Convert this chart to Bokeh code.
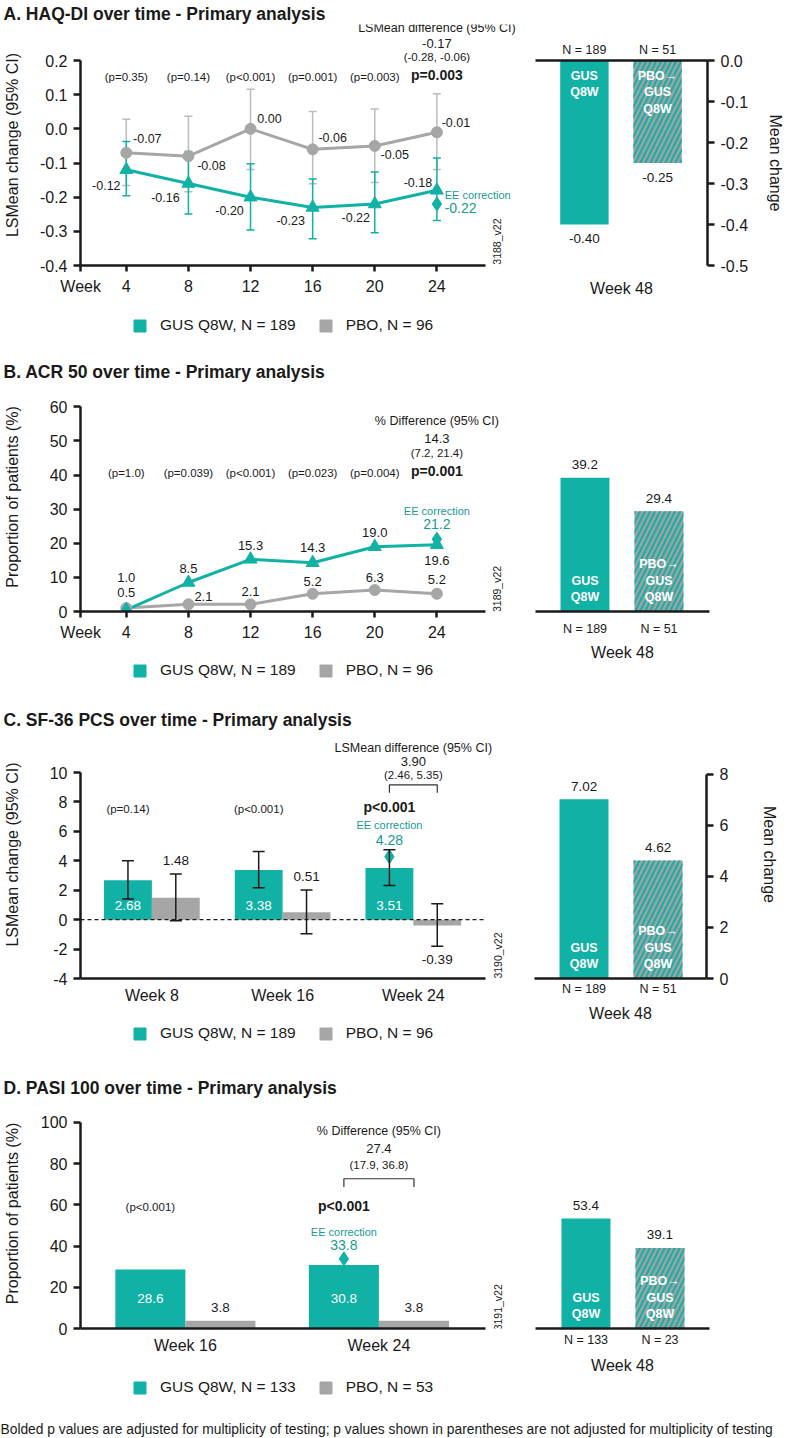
import math
from bokeh.plotting import figure
from bokeh.models import (ColumnDataSource, Range1d, FixedTicker, Whisker, TeeHead, Label,
                          Legend, LegendItem, LinearAxis, NumeralTickFormatter)
from bokeh.layouts import row, column
from bokeh.embed import file_html
from bokeh.resources import INLINE
from bokeh.core.properties import value

# ---------------- data ----------------
titles = ["A. HAQ-DI over time - Primary analysis",
          "B. ACR 50 over time - Primary analysis",
          "C. SF-36 PCS over time - Primary analysis",
          "D. PASI 100 over time - Primary analysis"]

weeks_ts = [4, 8, 12, 16, 20, 24]

haq_gus = [-0.12, -0.16, -0.20, -0.23, -0.22, -0.18]
haq_gus_lo = [-0.196, -0.249, -0.296, -0.322, -0.304, -0.268]
haq_gus_hi = [-0.037, -0.066, -0.102, -0.147, -0.126, -0.085]
haq_pbo = [-0.07, -0.08, 0.00, -0.06, -0.05, -0.01]
haq_pbo_lo = [-0.166, -0.184, -0.119, -0.161, -0.157, -0.119]
haq_pbo_hi = [0.028, 0.037, 0.116, 0.051, 0.058, 0.103]
haq_p = ["(p=0.35)", "(p=0.14)", "(p<0.001)", "(p=0.001)", "(p=0.003)"]
haq_p_final = "p=0.003"
haq_diff = ["LSMean difference (95% CI)", "-0.17", "(-0.28, -0.06)"]
haq_ee = -0.22
haq_yticks = [-0.4, -0.3, -0.2, -0.1, 0.0, 0.1, 0.2]
haq_w48 = [-0.40, -0.25]
haq_w48_ticks = [-0.5, -0.4, -0.3, -0.2, -0.1, 0.0]

acr_gus = [0.5, 8.5, 15.3, 14.3, 19.0, 19.6]
acr_pbo = [1.0, 2.1, 2.1, 5.2, 6.3, 5.2]
acr_p = ["(p=1.0)", "(p=0.039)", "(p<0.001)", "(p=0.023)", "(p=0.004)"]
acr_p_final = "p=0.001"
acr_diff = ["% Difference (95% CI)", "14.3", "(7.2, 21.4)"]
acr_ee = 21.2
acr_yticks = [0, 10, 20, 30, 40, 50, 60]
acr_w48 = [39.2, 29.4]

weeks_c = ["Week 8", "Week 16", "Week 24"]
sf_gus = [2.68, 3.38, 3.51]
sf_gus_lo = [1.40, 2.17, 2.32]
sf_gus_hi = [4.00, 4.63, 4.75]
sf_pbo = [1.48, 0.51, -0.39]
sf_pbo_lo = [-0.07, -0.96, -1.80]
sf_pbo_hi = [3.10, 2.01, 1.08]
sf_p = ["(p=0.14)", "(p<0.001)"]
sf_p_final = "p<0.001"
sf_diff = ["LSMean difference (95% CI)", "3.90", "(2.46, 5.35)"]
sf_ee = 4.28
sf_yticks = [-4, -2, 0, 2, 4, 6, 8, 10]
sf_w48 = [7.02, 4.62]
sf_w48_ticks = [0, 2, 4, 6, 8]

weeks_d = ["Week 16", "Week 24"]
pasi_gus = [28.6, 30.8]
pasi_pbo = [3.8, 3.8]
pasi_p = ["(p<0.001)"]
pasi_p_final = "p<0.001"
pasi_diff = ["% Difference (95% CI)", "27.4", "(17.9, 36.8)"]
pasi_ee = 33.8
pasi_yticks = [0, 20, 40, 60, 80, 100]
pasi_w48 = [53.4, 39.1]

w48_groups = ["GUS\nQ8W", "PBO\u2192\nGUS\nQ8W"]
w48_n_main = ["N = 189", "N = 51"]
w48_n_pasi = ["N = 133", "N = 23"]
legend_main = ["GUS Q8W, N = 189", "PBO, N = 96"]
legend_pasi = ["GUS Q8W, N = 133", "PBO, N = 53"]
fig_codes = ["3188_v22", "3189_v22", "3190_v22", "3191_v22"]
footnote = ("Bolded p values are adjusted for multiplicity of testing; "
            "p values shown in parentheses are not adjusted for multiplicity of testing")

# ---------------- style ----------------
FONT = "Liberation Sans"
TEAL = "#11b1a6"
TEAL_TXT = "#169b91"
GRAY = "#a6a6a6"
GRAY_CI = "#bcbcbc"
INK = "#1a1a1a"
HATCH_BG = "#a1a1a1"
LEFT_W, RIGHT_W = 528, 259
LB = 78          # left border of the left panels


def style_axis(ax, size="16px"):
    ax.axis_line_color = INK
    ax.axis_line_width = 2.5
    ax.major_tick_line_color = INK
    ax.major_tick_line_width = 2.5
    ax.major_tick_out = 7
    ax.major_tick_in = 0
    ax.minor_tick_line_color = None
    ax.major_label_text_font = FONT
    ax.major_label_text_font_size = size
    ax.major_label_text_color = INK
    ax.axis_label_text_font = FONT
    ax.axis_label_text_font_size = "16px"
    ax.axis_label_text_font_style = "normal"
    ax.axis_label_text_color = INK


def make_left(title, height, b_bottom, xr, yr, xbounds):
    p = figure(width=LEFT_W, height=height, x_range=Range1d(*xr), y_range=Range1d(*yr),
               output_backend="svg", toolbar_location=None,
               min_border_left=LB, min_border_right=0,
               min_border_top=24, min_border_bottom=b_bottom, title=title)
    p.title.text_font = FONT
    p.title.text_font_size = "17.5px"
    p.title.text_font_style = "bold"
    p.title.text_color = INK
    p.title.align = "left"
    p.title.offset = -(LB - 1)
    p.title.standoff = 1
    p.outline_line_color = None
    p.xgrid.grid_line_color = None
    p.ygrid.grid_line_color = None
    style_axis(p.xaxis[0])
    style_axis(p.yaxis[0])
    p.xaxis[0].bounds = xbounds
    return p


def set_y(p, ticks, fmt, label, label_standoff):
    ax = p.yaxis[0]
    ax.ticker = FixedTicker(ticks=ticks)
    ax.bounds = (min(ticks), max(ticks))
    ax.formatter = NumeralTickFormatter(format=fmt)
    ax.axis_label = label
    ax.axis_label_standoff = label_standoff
    ax.major_label_standoff = 6


def set_x_weeks(p, xr):
    ax = p.xaxis[0]
    wpos = round(xr[0] + 0.01, 3)
    ax.ticker = FixedTicker(ticks=[wpos] + weeks_ts)
    ax.formatter = NumeralTickFormatter(format="0")
    ax.major_label_overrides = {wpos: "Week"}
    ax.major_tick_out = 6
    ax.major_label_standoff = 6


def set_x_cats(p, pos, cats, standoff):
    ax = p.xaxis[0]
    ax.ticker = FixedTicker(ticks=pos)
    ax.major_label_overrides = {x: c for x, c in zip(pos, cats)}
    ax.major_tick_line_color = None
    ax.major_tick_out = 0
    ax.major_label_standoff = standoff


def make_right(height, b_top, b_bottom, b_left, b_right, xr, yr):
    p = figure(width=RIGHT_W, height=height, x_range=Range1d(*xr), y_range=Range1d(*yr),
               output_backend="svg", toolbar_location=None,
               x_axis_location=None, y_axis_location=None,
               min_border_left=b_left, min_border_right=b_right,
               min_border_top=b_top, min_border_bottom=b_bottom)
    p.outline_line_color = None
    p.xgrid.grid_line_color = None
    p.ygrid.grid_line_color = None
    return p


x_w48 = list(range(1, len(w48_groups) + 1))


def add_n_axis(p, place, labels, standoff, week_label=None, label_standoff=0):
    ax = LinearAxis(ticker=FixedTicker(ticks=x_w48),
                    major_label_overrides={x: l for x, l in zip(x_w48, labels)})
    style_axis(ax, "12.5px")
    ax.major_tick_line_color = None
    ax.major_tick_out = 0
    ax.major_label_standoff = standoff
    if week_label:
        ax.axis_label = week_label
        ax.axis_label_standoff = label_standoff
    p.add_layout(ax, place)


def add_week_only_axis(p, standoff):
    ax = LinearAxis(ticker=FixedTicker(ticks=[]), axis_label="Week 48")
    style_axis(ax)
    ax.axis_line_color = None
    ax.major_tick_line_color = None
    ax.major_tick_out = 0
    ax.major_label_standoff = 0
    ax.axis_label_standoff = standoff
    p.add_layout(ax, "below")


def add_right_axis(p, ticks, fmt, standoff):
    ax = LinearAxis(ticker=FixedTicker(ticks=ticks), formatter=NumeralTickFormatter(format=fmt),
                    bounds=(min(ticks), max(ticks)), axis_label="Mean change")
    style_axis(ax)
    ax.axis_label_standoff = standoff
    ax.major_label_standoff = 6
    p.add_layout(ax, "right")


def lab(p, x, y, text, size="11.5px", color=INK, bold=False, align="center", angle=0.0):
    p.add_layout(Label(x=x, y=y, text=text, text_font=FONT, text_font_size=size,
                       text_color=color, text_font_style="bold" if bold else "normal",
                       text_align=align, text_baseline="middle", angle=angle))


def header(p, x, ys, diff, pfinal):
    lab(p, x, ys[0], diff[0], "12.5px")
    lab(p, x, ys[1], diff[1], "13px")
    lab(p, x, ys[2], diff[2], "11.5px")
    if pfinal is not None:
        lab(p, x, ys[3], pfinal, "14px", bold=True)


def txt(p, src, size, color=INK, bold=False, align="center", baseline="middle", **kw):
    return p.text(x="x", y="y", text="t", source=src, text_font=value(FONT),
                  text_font_size=size, text_color=color,
                  text_font_style="bold" if bold else "normal",
                  text_align=align, text_baseline=baseline, **kw)


def w48_bars(p, vals, fmt, label_offset, inside_top):
    src = ColumnDataSource(dict(
        x=x_w48, top=vals, fill=[TEAL, HATCH_BG],
        hatch=["blank", "right_diagonal_line"],
        t=[fmt.format(v) for v in vals]))
    p.vbar(x="x", top="top", bottom=0, width=0.662, fill_color="fill", line_color=None,
           hatch_pattern="hatch", hatch_color=TEAL, hatch_weight=2, hatch_scale=10,
           source=src)
    p.text(x="x", y="top", text="t", source=src, text_font=value(FONT),
           text_font_size="13.5px", text_color=INK, text_align="center",
           text_baseline="middle", y_offset=label_offset)
    nsrc = ColumnDataSource(dict(x=x_w48, y=[0] * len(x_w48), t=w48_groups))
    if inside_top:
        txt(p, nsrc, "12.5px", color="white", bold=True, baseline="top", y_offset=8)
    else:
        txt(p, nsrc, "12.5px", color="white", bold=True, baseline="bottom", y_offset=-7)


def make_legend(height, labels, center_from_bottom):
    p = figure(width=LEFT_W, height=height, x_range=Range1d(0, 1), y_range=Range1d(0, 1),
               output_backend="svg", toolbar_location=None,
               x_axis_location=None, y_axis_location=None,
               min_border_left=LB, min_border_right=0, min_border_top=0, min_border_bottom=0)
    p.outline_line_color = None
    p.xgrid.grid_line_color = None
    p.ygrid.grid_line_color = None
    # legend proxies (hidden renderers, only their legend swatches are shown)
    r1 = p.vbar(x=[0.5], top=[0.5], width=0.1, fill_color=TEAL, line_color=TEAL, visible=False)
    r2 = p.vbar(x=[0.5], top=[0.5], width=0.1, fill_color=GRAY, line_color=GRAY, visible=False)
    leg = Legend(items=[LegendItem(label=value(labels[0]), renderers=[r1]),
                        LegendItem(label=value(labels[1]), renderers=[r2])],
                 location=(130 - LB, center_from_bottom - 9), orientation="horizontal",
                 glyph_width=15, glyph_height=15, label_height=15, label_standoff=13,
                 spacing=22, padding=0, margin=0, border_line_color=None,
                 background_fill_alpha=0, label_text_font=FONT,
                 label_text_font_size="15.5px", label_text_color=INK,
                 inactive_fill_alpha=0)
    p.add_layout(leg)
    return p


# ================= Panel A =================
A_XR = (1.05, 29.90)
pA = make_left(titles[0], 300, 35, A_XR, (-0.4, 0.3054), (1.05, 27.14))
set_y(pA, haq_yticks, "0.0", "LSMean change (95% CI)", 16)
set_x_weeks(pA, A_XR)

srcAp = ColumnDataSource(dict(x=weeks_ts, y=haq_pbo, lo=haq_pbo_lo, hi=haq_pbo_hi,
                              t=["{:.2f}".format(v) for v in haq_pbo],
                              dx=[21, 23, 19, 20, 20, 19], dy=[-14, 9, -10, -12, 9, -10]))
srcAg = ColumnDataSource(dict(x=weeks_ts, y=haq_gus, lo=haq_gus_lo, hi=haq_gus_hi,
                              t=["{:.2f}".format(v) for v in haq_gus],
                              dx=[-20, -23, -21, -22, -19, -19], dy=[16, 14, 13, 13, 13, -8]))
for s, c in ((srcAp, GRAY_CI), (srcAg, TEAL)):
    pA.add_layout(Whisker(base="x", upper="hi", lower="lo", source=s, line_color=c, line_width=1.5,
                          upper_head=TeeHead(size=8, line_color=c, line_width=1.5),
                          lower_head=TeeHead(size=8, line_color=c, line_width=1.5)))
pA.line("x", "y", source=srcAp, line_color=GRAY, line_width=3)
pA.line("x", "y", source=srcAg, line_color=TEAL, line_width=3)
pA.scatter("x", "y", source=srcAp, marker="circle", size=11, fill_color=GRAY, line_color=GRAY)
pA.scatter("x", "y", source=srcAg, marker="triangle", size=13, fill_color=TEAL, line_color=TEAL)
pA.scatter([weeks_ts[-1]], [haq_ee], marker="diamond", size=14, fill_color=TEAL, line_color=TEAL)
txt(pA, srcAp, "12.5px", x_offset="dx", y_offset="dy")
txt(pA, srcAg, "12.5px", x_offset="dx", y_offset="dy")
for w, t in zip(weeks_ts, haq_p):
    lab(pA, w, 0.153, t)
header(pA, weeks_ts[-1], [0.294, 0.250, 0.211, 0.159], haq_diff, haq_p_final)
lab(pA, weeks_ts[-1] + 0.5, -0.194, "EE correction", "11px", TEAL_TXT, align="left")
lab(pA, weeks_ts[-1] + 0.5, -0.233, "{:.2f}".format(haq_ee), "14px", TEAL_TXT, align="left")
lab(pA, 27.9, -0.33, fig_codes[0], "10.5px", angle=math.pi / 2)

legA = make_legend(58, legend_main, 33)

rA = make_right(358, 60, 93, 7, 78, (0.331, 2.683), (-0.5, 0.0))
add_right_axis(rA, haq_w48_ticks, "0.0", 16)
add_n_axis(rA, "above", w48_n_main, 4)
add_week_only_axis(rA, 14)
w48_bars(rA, haq_w48, "{:.2f}", 14, True)

# ================= Panel B =================
B_XR = (1.05, 29.90)
pB = make_left(titles[1], 297, 44, B_XR, (0, 67.12), (1.05, 27.14))
set_y(pB, acr_yticks, "0", "Proportion of patients (%)", 26)
set_x_weeks(pB, B_XR)
srcBp = ColumnDataSource(dict(x=weeks_ts, y=acr_pbo, t=["{:.1f}".format(v) for v in acr_pbo],
                              dx=[0, 15, 0, 0, 0, 0], dy=[-31, -8, -13, -12.5, -13, -14]))
srcBg = ColumnDataSource(dict(x=weeks_ts, y=acr_gus, t=["{:.1f}".format(v) for v in acr_gus],
                              dx=[0, 0, 0, 0, 0, 0], dy=[-17, -14, -13.5, -15, -14, 15.5]))
pB.line("x", "y", source=srcBp, line_color=GRAY, line_width=3)
pB.line("x", "y", source=srcBg, line_color=TEAL, line_width=3)
pB.scatter("x", "y", source=srcBp, marker="circle", size=11, fill_color=GRAY, line_color=GRAY)
pB.scatter("x", "y", source=srcBg, marker="triangle", size=13, fill_color=TEAL, line_color=TEAL)
pB.scatter([weeks_ts[-1]], [acr_ee], marker="diamond", size=14, fill_color=TEAL, line_color=TEAL)
txt(pB, srcBp, "13px", x_offset="dx", y_offset="dy")
txt(pB, srcBg, "13px", x_offset="dx", y_offset="dy")
for w, t in zip(weeks_ts, acr_p):
    lab(pB, w, 40.65, t)
header(pB, weeks_ts[-1], [55.9, 50.8, 46.4, 41.3], acr_diff, acr_p_final)
lab(pB, weeks_ts[-1], 29.4, "EE correction", "11px", TEAL_TXT)
lab(pB, weeks_ts[-1], 25.5, "{:.1f}".format(acr_ee), "14px", TEAL_TXT)
lab(pB, 27.9, 6.6, fig_codes[1], "10.5px", angle=math.pi / 2)

legB = make_legend(51, legend_main, 36)

rB = make_right(348, 24, 95, 7, 78, (0.331, 2.683), (0, 67.12))
add_n_axis(rB, "below", w48_n_main, 10, "Week 48", 5)
w48_bars(rB, acr_w48, "{:.1f}", -13, False)

# ================= Panel C =================
C_XR = (0.454, 3.881)
C_BOUNDS = (0.454, 3.554)
pC = make_left(titles[2], 306, 34, C_XR, (-4, 12.855), C_BOUNDS)
set_y(pC, sf_yticks, "0", "LSMean change (95% CI)", 26)
xc = list(range(1, len(weeks_c) + 1))
set_x_cats(pC, xc, weeks_c, 8)
BW_C = 0.366
xcg = [x - BW_C / 2 for x in xc]
xcp = [x + BW_C / 2 for x in xc]
srcCg = ColumnDataSource(dict(x=xcg, top=sf_gus, lo=sf_gus_lo, hi=sf_gus_hi,
                              y=[0] * len(xc), t=["{:.2f}".format(v) for v in sf_gus]))
srcCp = ColumnDataSource(dict(x=xcp, top=sf_pbo, lo=sf_pbo_lo, hi=sf_pbo_hi,
                              y=[h if v >= 0 else l for v, h, l in zip(sf_pbo, sf_pbo_hi, sf_pbo_lo)],
                              dy=[-14 if v >= 0 else 13 for v in sf_pbo],
                              t=["{:.2f}".format(v) for v in sf_pbo]))
pC.vbar(x="x", top="top", bottom=0, width=BW_C, source=srcCg, fill_color=TEAL, line_color=None)
pC.vbar(x="x", top="top", bottom=0, width=BW_C, source=srcCp, fill_color=GRAY, line_color=None)
pC.line(x=list(C_BOUNDS), y=[0, 0], line_color=INK, line_width=1.3, line_dash="4 3")
for s in (srcCg, srcCp):
    pC.add_layout(Whisker(base="x", upper="hi", lower="lo", source=s, line_color=INK, line_width=1.5,
                          level="overlay",
                          upper_head=TeeHead(size=12, line_color=INK, line_width=1.5),
                          lower_head=TeeHead(size=12, line_color=INK, line_width=1.5)))
txt(pC, srcCg, "13.5px", color="white", y_offset=-14)
txt(pC, srcCp, "13.5px", y_offset="dy")
pC.scatter([xcg[-1]], [sf_ee], marker="diamond", size=14, fill_color=TEAL, line_color=TEAL,
           level="overlay")
for x, t in zip(xcg, sf_p):
    lab(pC, x, 7.52, t)
lab(pC, xcg[-1], 7.63, sf_p_final, "14px", bold=True)
header(pC, xc[-1], [11.68, 10.72, 9.81], sf_diff, None)
pC.line([xcg[-1], xcg[-1], xcp[-1], xcp[-1]], [8.62, 9.16, 9.16, 8.62], line_color="#333333",
        line_width=1.2)
lab(pC, xcg[-1], 6.40, "EE correction", "11px", TEAL_TXT)
lab(pC, xcg[-1], 5.44, "{:.2f}".format(sf_ee), "14px", TEAL_TXT)
lab(pC, 3.645, -2.44, fig_codes[2], "10.5px", angle=math.pi / 2)

legC = make_legend(62, legend_main, 41)

rC = make_right(368, 24, 96, 6, 81, (0.331, 2.655), (0, 9.709))
add_right_axis(rC, sf_w48_ticks, "0", 30)
add_n_axis(rC, "below", w48_n_main, 3, "Week 48", 6)
w48_bars(rC, sf_w48, "{:.2f}", -13, False)

# ================= Panel D =================
D_XR = (0.458, 2.773)
D_BOUNDS = (0.458, 2.552)
pD = make_left(titles[3], 291, 37, D_XR, (0, 111.65), D_BOUNDS)
set_y(pD, pasi_yticks, "0", "Proportion of patients (%)", 17)
xd = list(range(1, len(weeks_d) + 1))
set_x_cats(pD, xd, weeks_d, 8)
BW_D = 0.362
xdg = [x - BW_D / 2 for x in xd]
xdp = [x + BW_D / 2 for x in xd]
srcDg = ColumnDataSource(dict(x=xdg, top=pasi_gus, y=[0] * len(xd),
                              t=["{:.1f}".format(v) for v in pasi_gus]))
srcDp = ColumnDataSource(dict(x=xdp, top=pasi_pbo, y=pasi_pbo,
                              t=["{:.1f}".format(v) for v in pasi_pbo]))
pD.vbar(x="x", top="top", bottom=0, width=BW_D, source=srcDg, fill_color=TEAL, line_color=None)
pD.vbar(x="x", top="top", bottom=0, width=BW_D, source=srcDp, fill_color=GRAY, line_color=None)
txt(pD, srcDg, "13.5px", color="white", y_offset=-30)
txt(pD, srcDp, "13.5px", y_offset=-13.5)
pD.scatter([xdg[-1]], [pasi_ee], marker="diamond", size=14, fill_color=TEAL, line_color=TEAL)
for x, t in zip(xdg, pasi_p):
    lab(pD, x, 58.9, t)
lab(pD, xdg[-1], 59.3, pasi_p_final, "14px", bold=True)
header(pD, xd[-1], [95.8, 87.2, 79.6], pasi_diff, None)
pD.line([xdg[-1], xdg[-1], xdp[-1], xdp[-1]], [68.7, 72.7, 72.7, 68.7], line_color="#333333",
        line_width=1.2)
lab(pD, xdg[-1], 46.7, "EE correction", "11px", TEAL_TXT)
lab(pD, xdg[-1], 40.3, "{:.1f}".format(pasi_ee), "14px", TEAL_TXT)
lab(pD, 2.614, 10.3, fig_codes[3], "10.5px", angle=math.pi / 2)

legD = make_legend(40, legend_pasi, 18)

rD = make_right(331, 24, 77, 7, 78, (0.318, 2.669), (0, 111.65))
add_n_axis(rD, "below", w48_n_pasi, 4, "Week 48", 7)
w48_bars(rD, pasi_w48, "{:.1f}", -13, False)

# ================= footnote =================
pf = figure(width=LEFT_W + RIGHT_W, height=32, x_range=Range1d(0, 1), y_range=Range1d(0, 1),
            output_backend="svg", toolbar_location=None,
            x_axis_location=None, y_axis_location=None, min_border=0)
pf.outline_line_color = None
pf.xgrid.grid_line_color = None
pf.ygrid.grid_line_color = None
pf.text(x=[0], y=[0.25], text=[footnote], text_font=value(FONT), text_font_size="13.8px",
        text_align="left", text_baseline="middle", text_color=INK)

layout = column(
    row(column(pA, legA), rA),
    row(column(pB, legB), rB),
    row(column(pC, legC), rC),
    row(column(pD, legD), rD),
    pf,
)

open("out.html", "w").write(file_html(layout, INLINE))
